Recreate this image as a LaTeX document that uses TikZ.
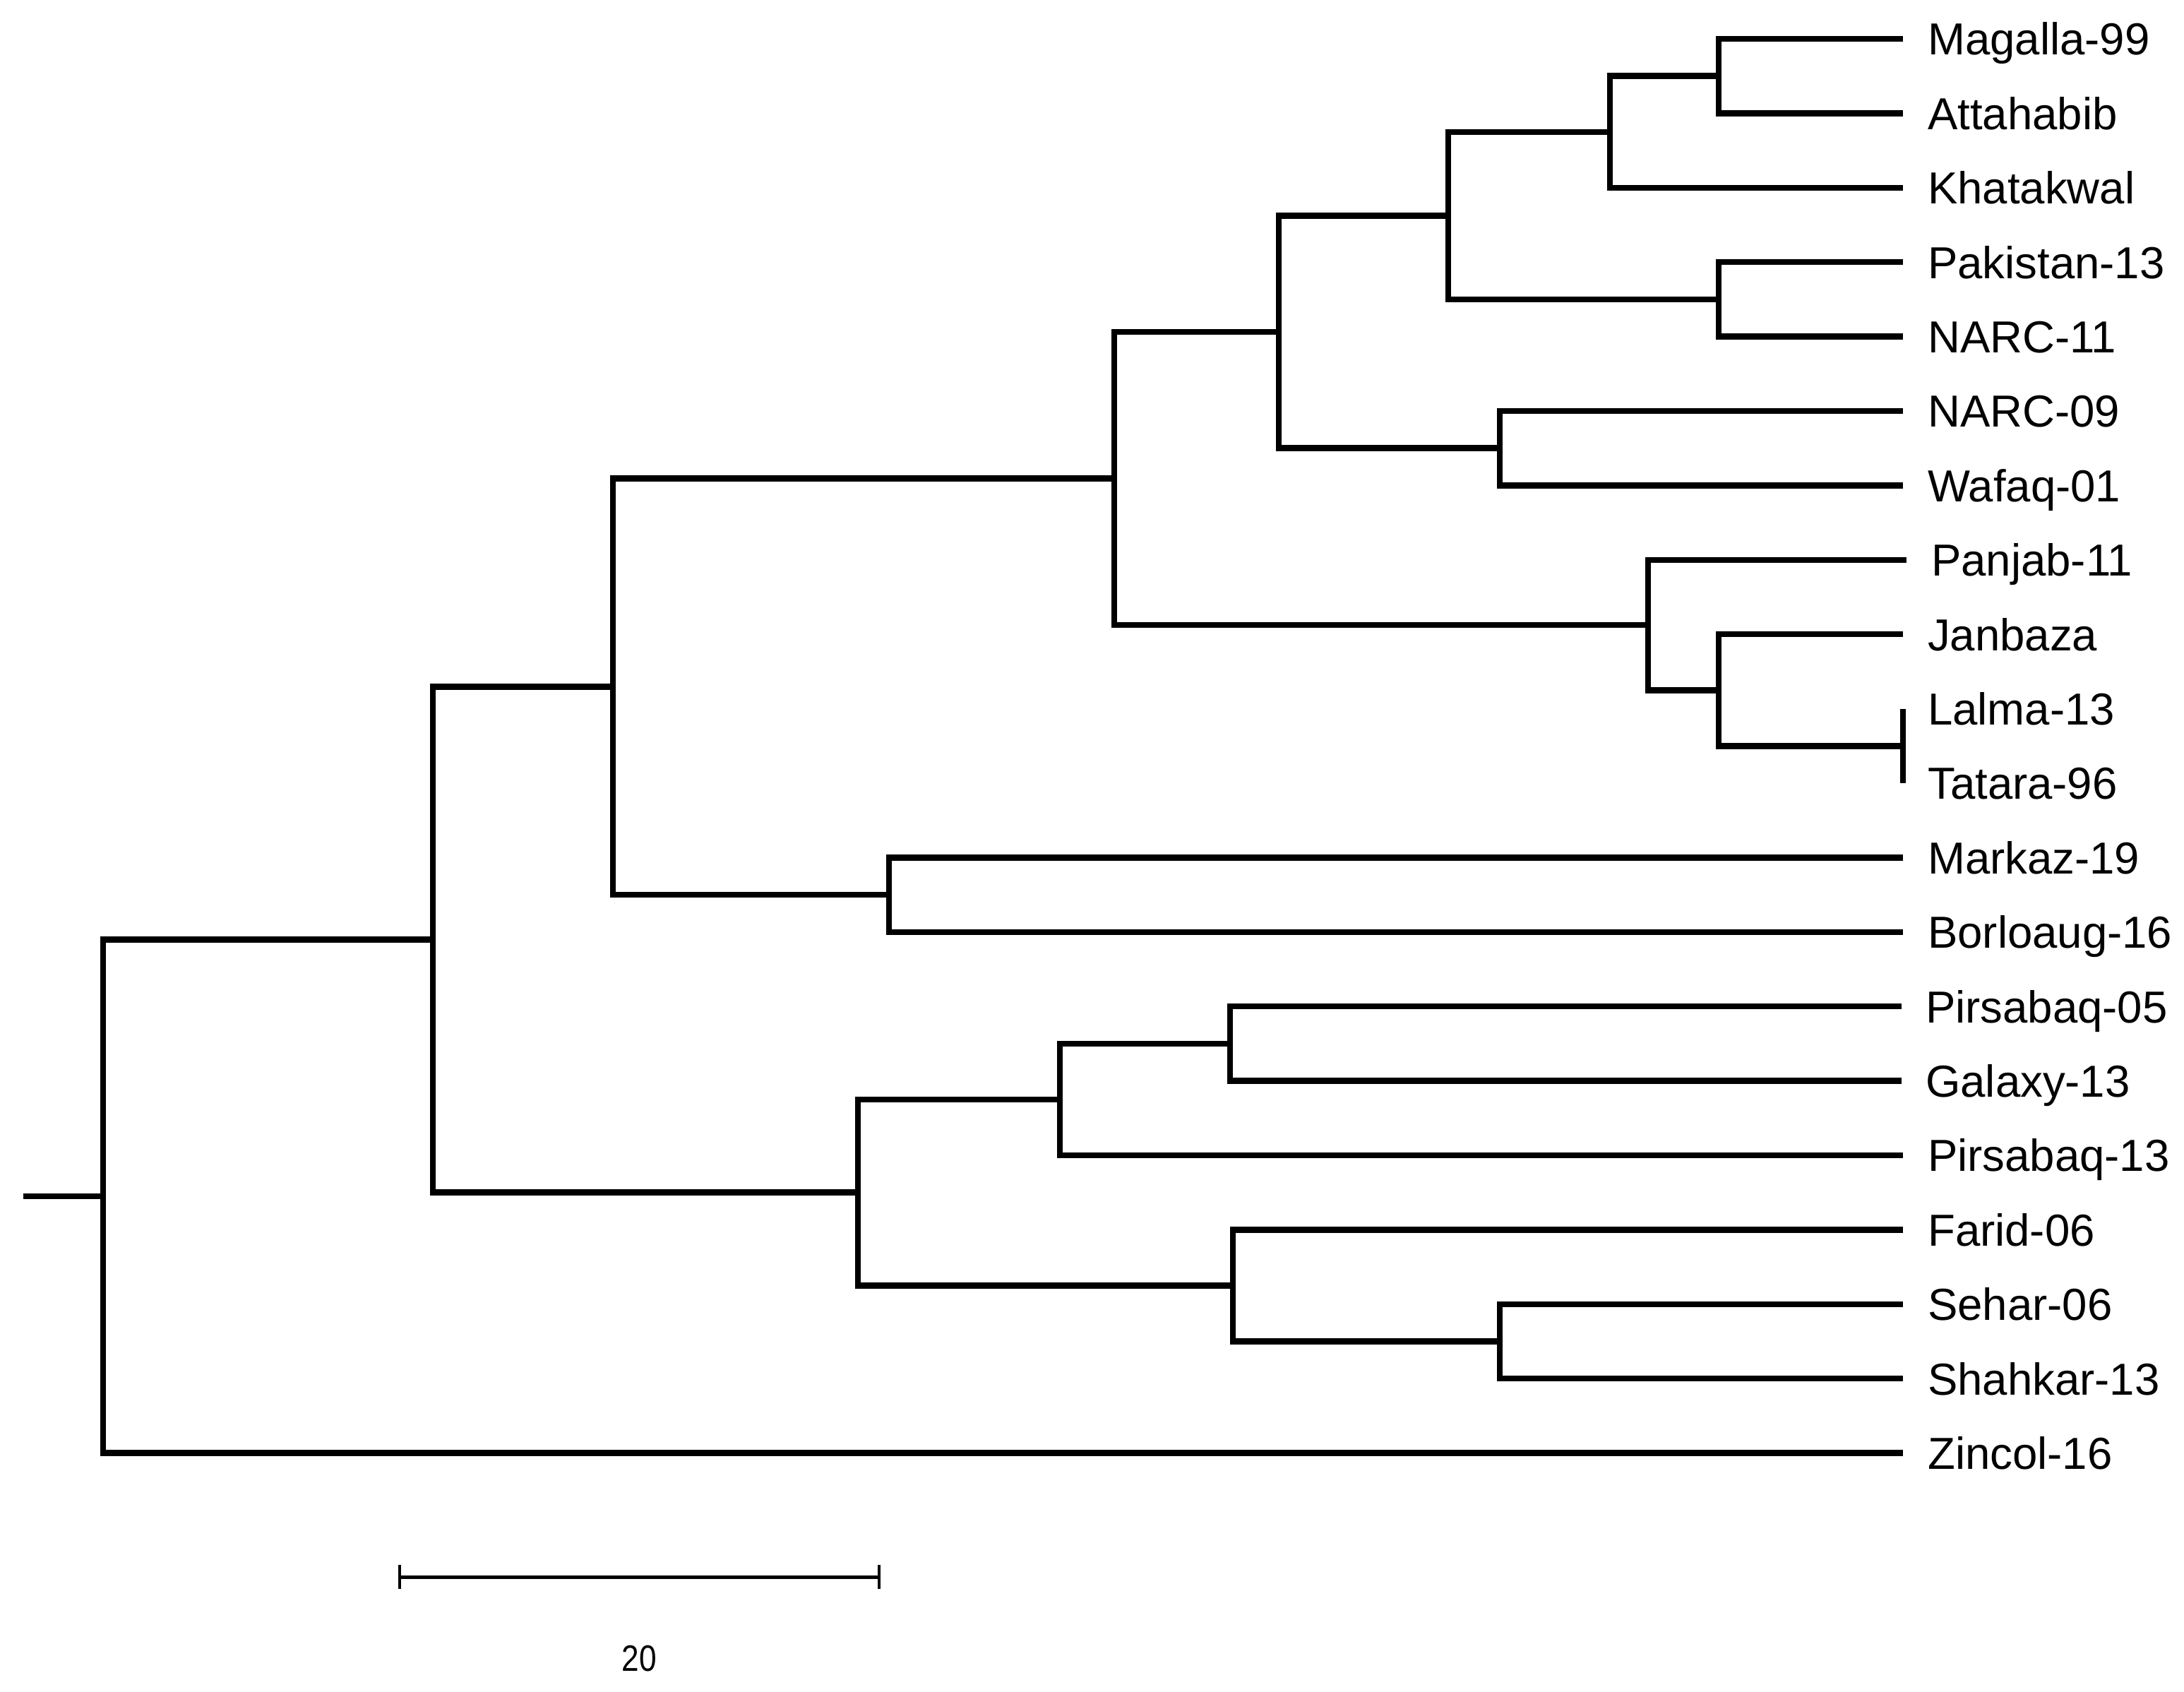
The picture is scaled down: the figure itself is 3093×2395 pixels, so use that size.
\documentclass[tikz,border=0pt]{standalone}
\usepackage{fontspec}
\setmainfont{Liberation Sans}
\usetikzlibrary{calc}
\begin{document}
\begin{tikzpicture}[x=1pt,y=-1pt,
  branch/.style={line width=8.5pt,line join=miter,line cap=butt},
  leaflabel/.style={anchor=base west,inner sep=0pt,font=\fontsize{63.5}{70}\selectfont},
  barline/.style={line width=5pt},
  ticks/.style={line width=4.5pt}]
\useasboundingbox (0,0) rectangle (3093,2395);
% leaf tips
\coordinate (tMag) at (2695,55);
\coordinate (tAtt) at (2695,160.4);
\coordinate (tKha) at (2695,265.8);
\coordinate (tPak) at (2695,371.2);
\coordinate (tN11) at (2695,476.6);
\coordinate (tN09) at (2695,582);
\coordinate (tWaf) at (2695,687.4);
\coordinate (tPan) at (2700,792.8);
\coordinate (tJan) at (2695,898.2);
\coordinate (tLal) at (2695,1003.6);
\coordinate (tTat) at (2695,1109);
\coordinate (tMar) at (2695,1214.4);
\coordinate (tBor) at (2695,1319.8);
\coordinate (tP05) at (2693,1425.2);
\coordinate (tGal) at (2693,1530.6);
\coordinate (tP13) at (2695,1636);
\coordinate (tFar) at (2695,1741.4);
\coordinate (tSeh) at (2695,1846.8);
\coordinate (tShk) at (2695,1952.2);
\coordinate (tZin) at (2695,2057.6);
% labels
\node[leaflabel] (lMag) at (2730,77.8) {Magalla-99};
\node[leaflabel] (lAtt) at (2730,183.2) {Attahabib};
\node[leaflabel] (lKha) at (2730,288.6) {Khatakwal};
\node[leaflabel] (lPak) at (2730,394) {Pakistan-13};
\node[leaflabel] (lN11) at (2730,499.4) {NARC-11};
\node[leaflabel] (lN09) at (2730,604.8) {NARC-09};
\node[leaflabel] (lWaf) at (2730,710.2) {Wafaq-01};
\node[leaflabel] (lPan) at (2735,815.6) {Panjab-11};
\node[leaflabel] (lJan) at (2730,921) {Janbaza};
\node[leaflabel] (lLal) at (2730,1026.4) {Lalma-13};
\node[leaflabel] (lTat) at (2730,1131.8) {Tatara-96};
\node[leaflabel] (lMar) at (2730,1237.2) {Markaz-19};
\node[leaflabel] (lBor) at (2730,1342.6) {Borloaug-16};
\node[leaflabel] (lP05) at (2727,1448) {Pirsabaq-05};
\node[leaflabel] (lGal) at (2727,1553.4) {Galaxy-13};
\node[leaflabel] (lP13) at (2730,1658.8) {Pirsabaq-13};
\node[leaflabel] (lFar) at (2730,1764.2) {Farid-06};
\node[leaflabel] (lSeh) at (2730,1869.6) {Sehar-06};
\node[leaflabel] (lShk) at (2730,1975) {Shahkar-13};
\node[leaflabel] (lZin) at (2730,2080.4) {Zincol-16};
% internal nodes
\coordinate (n1) at (2434,107.7);
\coordinate (n2) at (2280,186.75);
\coordinate (n3) at (2434,423.9);
\coordinate (n4) at (2051,305.3);
\coordinate (n5) at (2124,634.7);
\coordinate (n6) at (1811,470);
\coordinate (n7) at (2695,1056.3);
\coordinate (n8) at (2434,977.25);
\coordinate (n9) at (2334,885);
\coordinate (n10) at (1578,677.5);
\coordinate (n11) at (1259,1267.1);
\coordinate (n12) at (868,972.3);
\coordinate (n13) at (1742,1477.9);
\coordinate (n14) at (1501,1557);
\coordinate (n15) at (2124,1899.5);
\coordinate (n16) at (1746,1820.45);
\coordinate (n17) at (1215,1688.7);
\coordinate (n18) at (613,1330.5);
\coordinate (n19) at (146,1694);
\coordinate (root) at (33,1694);
% branches
\draw[branch] (tMag) -| (n1) |- (tAtt);
\draw[branch] (n1) -| (n2) |- (tKha);
\draw[branch] (tPak) -| (n3) |- (tN11);
\draw[branch] (n2) -| (n4) |- (n3);
\draw[branch] (tN09) -| (n5) |- (tWaf);
\draw[branch] (n4) -| (n6) |- (n5);
\draw[branch] (tLal) -- (tTat);
\draw[branch] (tJan) -| (n8) |- (n7);
\draw[branch] (tPan) -| (n9) |- (n8);
\draw[branch] (n6) -| (n10) |- (n9);
\draw[branch] (tMar) -| (n11) |- (tBor);
\draw[branch] (n10) -| (n12) |- (n11);
\draw[branch] (tP05) -| (n13) |- (tGal);
\draw[branch] (n13) -| (n14) |- (tP13);
\draw[branch] (tSeh) -| (n15) |- (tShk);
\draw[branch] (tFar) -| (n16) |- (n15);
\draw[branch] (n14) -| (n17) |- (n16);
\draw[branch] (n12) -| (n18) |- (n17);
\draw[branch] (n18) -| (n19) |- (tZin);
\draw[branch] (root) -- (n19);
% scale bar
\coordinate (s1) at (566,2233);
\coordinate (s2) at (1245,2233);
\draw[barline] (s1) -- (s2);
\draw[ticks] ($(s1)+(0,-17)$) -- ($(s1)+(0,17)$);
\draw[ticks] ($(s2)+(0,-17)$) -- ($(s2)+(0,17)$);
\node[font=\fontsize{52}{56}\selectfont, xscale=0.85, inner sep=0pt] (sl) at (905,2349) {20};
\end{tikzpicture}
\end{document}
